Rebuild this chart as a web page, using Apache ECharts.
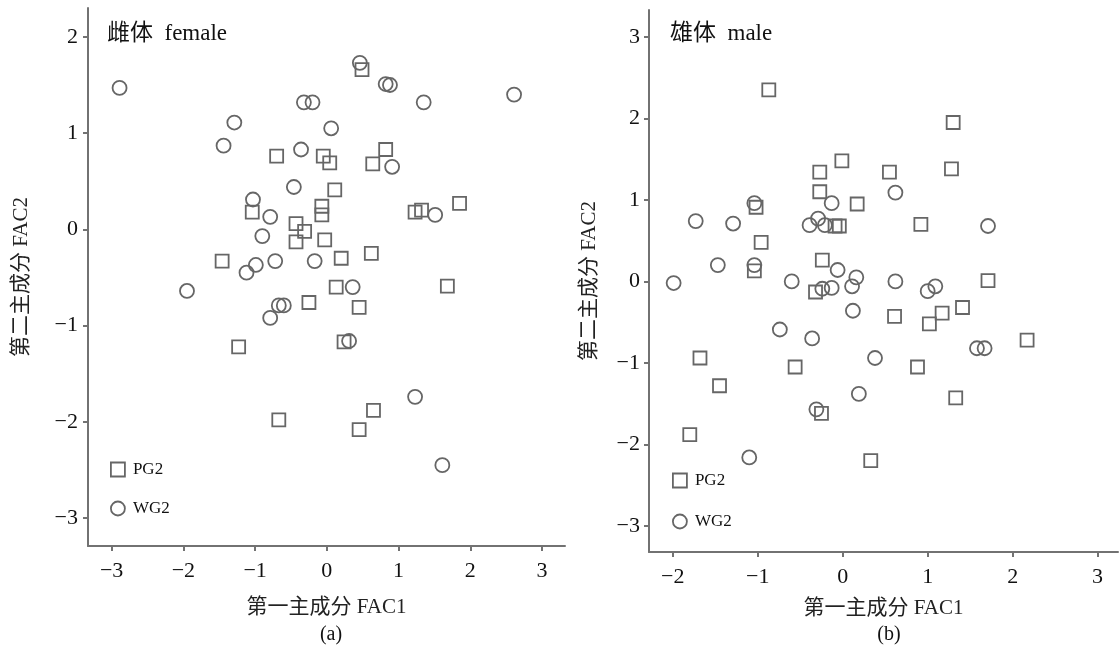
<!DOCTYPE html>
<html>
<head>
<meta charset="utf-8">
<title>PCA scatter</title>
<script src="https://cdn.jsdelivr.net/npm/echarts@6/dist/echarts.min.js"></script>
<style>
  html, body { margin: 0; padding: 0; background: #fff; }
  #chart { width: 1120px; height: 650px; }
</style>
</head>
<body>
<div id="chart"></div>
<script>
// female panel (a)
const femalePG2 = [
  [-0.70,0.76],[-0.05,0.76],[0.04,0.69],[-1.04,0.18],[0.11,0.41],[-0.07,0.24],
  [-0.07,0.15],[-0.43,0.06],[-0.31,-0.02],[-0.43,-0.13],[-0.03,-0.11],[-1.46,-0.33],
  [0.49,1.66],[0.82,0.83],[0.64,0.68],[1.23,0.18],[1.32,0.20],[1.85,0.27],
  [0.20,-0.30],[0.62,-0.25],[0.13,-0.60],[1.68,-0.59],[-0.25,-0.76],[-1.23,-1.22],
  [-0.67,-1.98],[0.45,-0.81],[0.24,-1.17],[0.65,-1.88],[0.45,-2.08]
];
const femaleWG2 = [
  [-2.89,1.47],[-0.32,1.32],[-0.20,1.32],[-1.29,1.11],[-1.44,0.87],[0.06,1.05],
  [-0.36,0.83],[-0.46,0.44],[-1.03,0.31],[-0.79,0.13],[-0.90,-0.07],[-1.12,-0.45],
  [-0.99,-0.37],[-0.72,-0.33],[-0.17,-0.33],[-1.95,-0.64],[0.46,1.73],[0.82,1.51],
  [0.88,1.50],[1.35,1.32],[2.61,1.40],[0.91,0.65],[1.51,0.15],[0.36,-0.60],
  [-0.67,-0.79],[-0.60,-0.79],[-0.79,-0.92],[0.31,-1.16],[1.23,-1.74],[1.61,-2.45]
];
// male panel (b)
const malePG2 = [
  [-0.87,2.35],[-0.01,1.48],[-0.27,1.34],[0.55,1.34],[-0.27,1.10],[0.17,0.95],
  [-1.02,0.91],[-0.09,0.68],[-0.04,0.68],[-0.96,0.48],[-1.04,0.13],[-0.24,0.26],
  [-0.32,-0.13],[1.30,1.95],[1.28,1.38],[0.92,0.70],[1.71,0.01],[-1.68,-0.94],
  [-0.56,-1.05],[-1.45,-1.28],[-0.25,-1.62],[-1.80,-1.88],[0.33,-2.20],[0.61,-0.43],
  [1.02,-0.52],[1.17,-0.39],[1.41,-0.32],[2.17,-0.72],[0.88,-1.05],[1.33,-1.43]
];
const maleWG2 = [
  [-0.13,0.96],[-1.04,0.96],[-1.73,0.74],[-1.29,0.71],[-0.39,0.69],[-0.29,0.77],
  [-0.21,0.69],[-1.47,0.20],[-1.04,0.20],[-0.06,0.14],[-1.99,-0.02],[-0.60,0.00],
  [-0.24,-0.09],[-0.13,-0.08],[0.16,0.05],[0.11,-0.06],[0.62,0.00],[0.62,1.09],
  [1.71,0.68],[1.00,-0.12],[1.09,-0.06],[0.12,-0.36],[-0.74,-0.59],[-0.36,-0.70],
  [0.38,-0.94],[0.19,-1.38],[-0.31,-1.57],[-1.10,-2.16],[1.58,-0.82],[1.67,-0.82]
];
// tick labels
const femaleXTicks = [-3,-2,-1,0,1,2,3];
const femaleYTicks = [-3,-2,-1,0,1,2];
const maleXTicks = [-2,-1,0,1,2,3];
const maleYTicks = [-3,-2,-1,0,1,2,3];

const FONT = "'Liberation Serif', 'Noto Sans CJK SC', serif";
const AXIS_COLOR = '#727272';
const MARK_COLOR = '#666';

function fmt(v){
  return String(v).replace('-', '\u2212');
}

function valueAxis(idx, min, max, ticks, name, isY, nameGap, labelMargin){
  let ax = {
    type:'value',
    gridIndex:idx,
    min:min,
    max:max,
    name:name,
    nameLocation:'middle',
    nameGap:nameGap,
    nameTextStyle:{ color:'#222', fontFamily:FONT, fontSize:21 },
    splitLine:{ show:false },
    axisLine:{ show:true, onZero:false, lineStyle:{ color:AXIS_COLOR, width:2 } },
    axisTick:{ show:true, length:5, customValues:ticks, lineStyle:{ color:AXIS_COLOR, width:2 } },
    axisLabel:{
      show:true, customValues:ticks, color:'#111', fontFamily:FONT, fontSize:22, margin:labelMargin,
      formatter:fmt
    }
  };
  if(isY) ax.nameRotate = 90;
  return ax;
}

function scatter(name, idx, data, symbol, size){
  return {
    type:'scatter',
    name:name,
    xAxisIndex:idx,
    yAxisIndex:idx,
    data:data,
    symbol:symbol,
    symbolSize:size,
    itemStyle:{ color:'rgba(0,0,0,0)', borderColor:MARK_COLOR, borderWidth:1.8, opacity:1 },
    emphasis:{ disabled:true },
    silent:true,
    animation:false
  };
}

function legendAt(left, top, gap){
  return {
    left:left, top:top, orient:'vertical',
    itemWidth:14, itemHeight:14, itemGap:gap,
    selectedMode:false,
    textStyle:{ color:'#111', fontFamily:FONT, fontSize:17, padding:[0,0,0,3] },
    data:[{ name:'PG2', icon:'rect' }, { name:'WG2', icon:'circle' }],
    itemStyle:{ color:'rgba(0,0,0,0)', borderColor:MARK_COLOR, borderWidth:1.8 }
  };
}

const titleStyle = { fontFamily:FONT, fontSize:23, fontWeight:'normal', color:'#111' };
const capStyle = { fontFamily:FONT, fontSize:20, fontWeight:'normal', color:'#111' };

const chart = echarts.init(document.getElementById('chart'));

const option = {
  backgroundColor:'#fff',
  animation:false,
  title:[
    { text:'雌体  female', left:102, top:17, textStyle:titleStyle },
    { text:'雄体  male', left:665, top:17, textStyle:titleStyle },
    { text:'(a)', left:326, top:620, textAlign:'center', textStyle:capStyle },
    { text:'(b)', left:884, top:620, textAlign:'center', textStyle:capStyle }
  ],
  legend:[ legendAt(105, 456, 22), legendAt(667, 467, 24) ],
  grid:[
    { left:88, top:8, width:477, height:538 },
    { left:649, top:10, width:469, height:542 }
  ],
  xAxis:[
    valueAxis(0, -3.33, 3.32, femaleXTicks, '第一主成分 FAC1', false, 51, 14),
    valueAxis(1, -2.28, 3.24, maleXTicks, '第一主成分 FAC1', false, 46, 14)
  ],
  yAxis:[
    valueAxis(0, -3.29, 2.30, femaleYTicks, '第二主成分 FAC2', true, 56, 10),
    valueAxis(1, -3.32, 3.33, maleYTicks, '第二主成分 FAC2', true, 49, 9)
  ],
  series:[
    scatter('PG2', 0, femalePG2, 'rect', 13),
    scatter('WG2', 0, femaleWG2, 'circle', 14),
    scatter('PG2', 1, malePG2, 'rect', 13),
    scatter('WG2', 1, maleWG2, 'circle', 14)
  ]
};

chart.setOption(option);
</script>
</body>
</html>
